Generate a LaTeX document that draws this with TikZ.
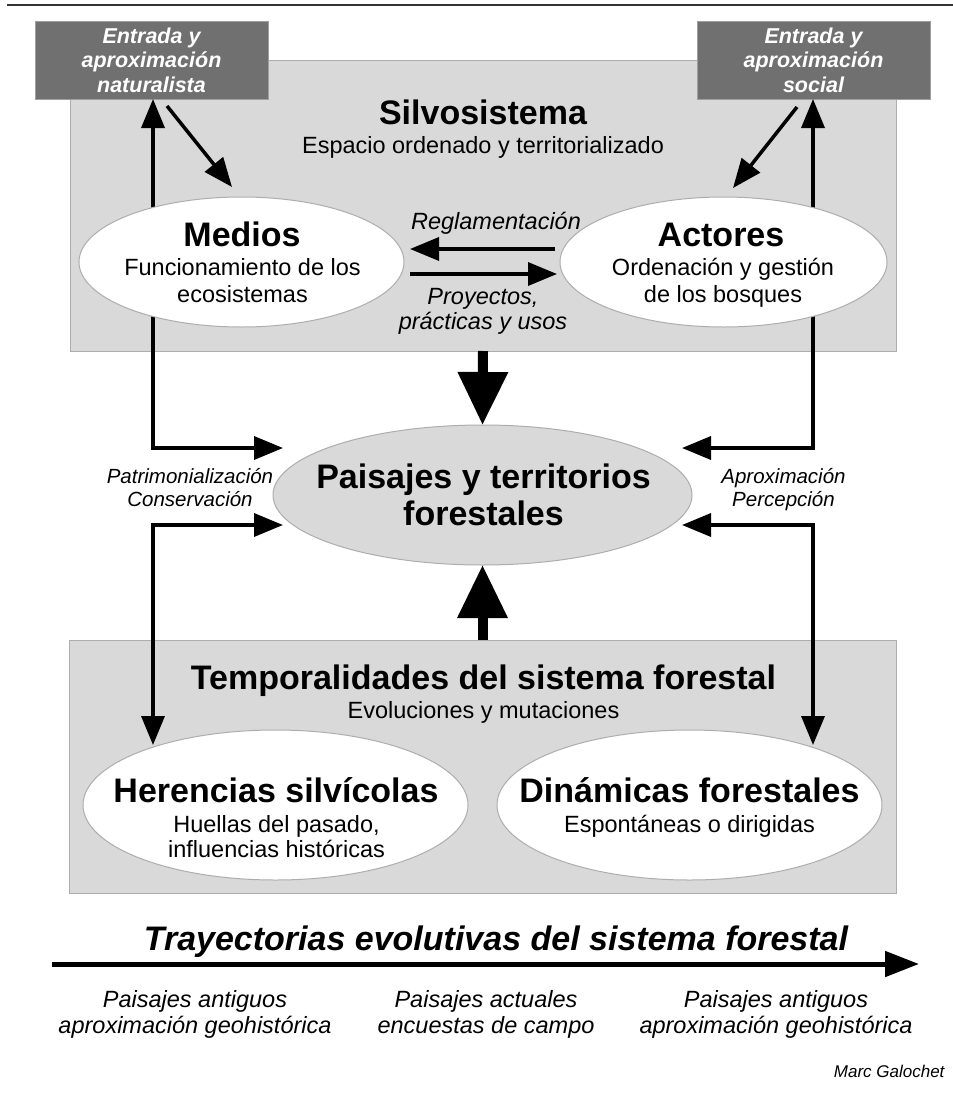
\documentclass[tikz,border=0pt]{standalone}
\usepackage{fontspec}
\setmainfont{Liberation Sans}
\usetikzlibrary{arrows.meta,calc,shapes.geometric}

\definecolor{panelgray}{HTML}{D9D9D9}
\definecolor{boxgray}{HTML}{707070}
\definecolor{edgegray}{HTML}{ADADAD}
\newcommand{\fsz}[2]{\fontsize{#1}{#2}\selectfont}

\begin{document}
\begin{tikzpicture}[x=1pt,y=-1pt,
    panel/.style={draw=edgegray, line width=1pt, fill=panelgray, inner sep=0pt, outer sep=0pt},
    entrybox/.style={draw=gray!75, line width=1pt, fill=boxgray, text=white, align=center,
        font=\fsz{21.5}{24.5}\bfseries\itshape, minimum width=233pt, minimum height=78pt,
        inner sep=0pt, outer sep=0pt},
    ellip/.style={ellipse, draw=edgegray, line width=1pt, fill=white, inner sep=0pt, outer sep=0pt},
    link/.style={line width=3.5pt, >={Triangle[length=29pt,width=23pt]}},
    bigarrow/.style={line width=10pt, -{Triangle[length=53pt,width=48pt]}},
    ttl/.style={font=\fsz{34}{37}\bfseries, anchor=base, align=center},
    subtxt/.style={font=\fsz{23.5}{26.5}, anchor=base, align=center},
    lbl/.style={font=\fsz{23.5}{25.5}\itshape, anchor=base, align=center},
    side/.style={font=\fsz{20.5}{22.5}\itshape, anchor=base, align=center}]
    \useasboundingbox (0,0) rectangle (953,1095);

    % top rule
    \coordinate (ruleL) at (7,5.3);
    \coordinate (ruleR) at (953,5.3);
    \draw[line width=2.2pt, black!80] (ruleL) -- (ruleR);

    % panels
    \node[panel, minimum width=826pt, minimum height=291pt] (silvo) at (483,205.5) {};
    \node[panel, minimum width=827pt, minimum height=253pt] (tempo) at (482.5,766.5) {};

    % entry boxes
    \node[entrybox] (natbox) at (151.5,60) {Entrada y\\aproximación\\naturalista};
    \node[entrybox] (socbox) at (813.5,60) {Entrada y\\aproximación\\social};

    % free ends of the side links
    \coordinate (patA) at (283,448);
    \coordinate (patB) at (283,525);
    \coordinate (perA) at (682,448);
    \coordinate (perB) at (682,525);
    \coordinate (herTop) at (153,745);
    \coordinate (dinTop) at (813,745);

    \draw[link,<->] ([xshift=1.5pt]natbox.south) |- (patA);
    \draw[link,<->] (patB) -| (herTop);
    \draw[link,<->] ([xshift=-0.5pt]socbox.south) |- (perA);
    \draw[link,<->] (perB) -| (dinTop);

    % ellipses
    \node[ellip, minimum width=325pt, minimum height=130pt] (medios) at (241.5,262) {};
    \node[ellip, minimum width=327pt, minimum height=130pt] (actores) at (723.5,262) {};
    \node[ellip, fill=panelgray, minimum width=419pt, minimum height=140pt] (paisajes) at (482.5,495) {};
    \node[ellip, minimum width=385pt, minimum height=150pt] (herencias) at (275.5,805) {};
    \node[ellip, minimum width=385pt, minimum height=150pt] (dinamicas) at (689.5,805) {};

    % arrows
    \draw[link,->] ($(natbox.south)+(15.5,7)$) -- ($(medios.north)+(-9.5,-10)$);
    \draw[link,->] ($(socbox.south)+(-16.5,8)$) -- ($(actores.north)+(9.5,-9)$);
    \draw[link,->, shorten <=5pt, shorten >=6pt] ([yshift=13pt]actores.west) -- ([yshift=13pt]medios.east);
    \draw[link,->, shorten <=6pt, shorten >=3pt] ([yshift=-12pt]medios.east) -- ([yshift=-12pt]actores.west);
    \draw[bigarrow] (silvo.south) -- (paisajes.north);
    \draw[bigarrow] (tempo.north) -- (paisajes.south);

    % texts (multi-line nodes sit on their last baseline)
    \node[ttl] (silvoT) at (483,124) {Silvosistema};
    \node[subtxt] (silvoS) at (483,153) {Espacio ordenado y territorializado};
    \node[ttl] (mediosT) at (242,246.5) {Medios};
    \node[subtxt] (mediosS) at (242.5,302) {Funcionamiento de los\\ecosistemas};
    \node[ttl] (actoresT) at (721,246.5) {Actores};
    \node[subtxt] (actoresS) at (723,302) {Ordenación y gestión\\de los bosques};
    \node[lbl] (reglT) at (496,229) {Reglamentación};
    \node[lbl, font=\fsz{23.5}{25}\itshape] (proyT) at (483,329) {Proyectos,\\prácticas y usos};
    \node[ttl] (paisT) at (483.5,525) {Paisajes y territorios\\forestales};
    \node[side] (patT) at (190,506) {Patrimonialización\\Conservación};
    \node[side] (perT) at (783.5,506) {Aproximación\\Percepción};
    \node[ttl] (tempoT) at (483.5,689) {Temporalidades del sistema forestal};
    \node[subtxt] (tempoS) at (483.5,718) {Evoluciones y mutaciones};
    \node[ttl] (herT) at (276,802) {Herencias silvícolas};
    \node[subtxt, font=\fsz{23.5}{25}] (herS) at (276.5,857) {Huellas del pasado,\\influencias históricas};
    \node[ttl] (dinT) at (689.5,802) {Dinámicas forestales};
    \node[subtxt] (dinS) at (689.5,832) {Espontáneas o dirigidas};

    % trajectories
    \coordinate (trajA) at (52,964);
    \coordinate (trajB) at (919,964);
    \draw[line width=5pt, -{Triangle[length=34pt,width=25pt]}] (trajA) -- (trajB);
    \node[font=\fsz{34}{40}\bfseries\itshape, anchor=base] (trajT) at (496,950)
        {Trayectorias evolutivas del sistema forestal};
    \node[lbl, font=\fsz{23.5}{26}\itshape] (oldL) at (195,1033) {Paisajes antiguos\\aproximación geohistórica};
    \node[lbl, font=\fsz{23.5}{26}\itshape] (now) at (486,1033) {Paisajes actuales\\encuestas de campo};
    \node[lbl, font=\fsz{23.5}{26}\itshape] (oldR) at (776,1033) {Paisajes antiguos\\aproximación geohistórica};
    \node[font=\fsz{17}{20}\itshape, anchor=base east] (author) at (948,1077) {Marc Galochet};
\end{tikzpicture}
\end{document}
